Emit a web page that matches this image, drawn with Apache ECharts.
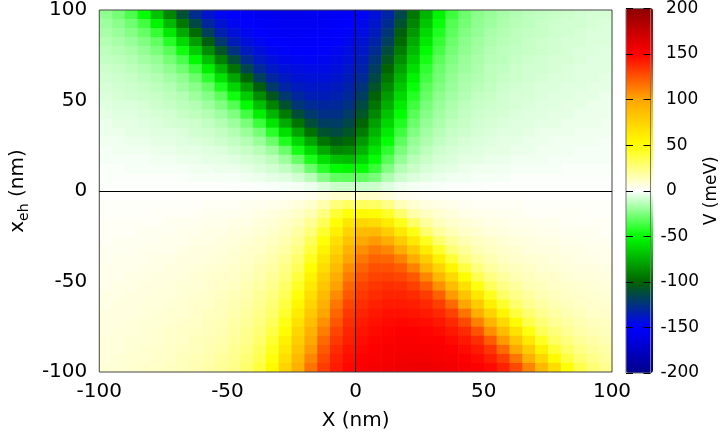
<!DOCTYPE html>
<html>
<head>
<meta charset="utf-8">
<title>V(X, x_eh)</title>
<script src="https://cdn.jsdelivr.net/npm/echarts@6/dist/echarts.min.js"></script>
<style>
  html, body { margin: 0; padding: 0; background: #fff; }
  #chart { width: 721px; height: 436px; }
</style>
</head>
<body>
<div id="chart"></div>
<script>
// cell centres in nm (5 nm cells)
const xCenters = [-97.5, -92.5, -87.5, -82.5, -77.5, -72.5, -67.5, -62.5, -57.5, -52.5,
  -47.5, -42.5, -37.5, -32.5, -27.5, -22.5, -17.5, -12.5, -7.5, -2.5,
  2.5, 7.5, 12.5, 17.5, 22.5, 27.5, 32.5, 37.5, 42.5, 47.5,
  52.5, 57.5, 62.5, 67.5, 72.5, 77.5, 82.5, 87.5, 92.5, 97.5];
const yCenters = [97.5, 92.5, 87.5, 82.5, 77.5, 72.5, 67.5, 62.5, 57.5, 52.5,
  47.5, 42.5, 37.5, 32.5, 27.5, 22.5, 17.5, 12.5, 7.5, 2.5,
  -2.5, -7.5, -12.5, -17.5, -22.5, -27.5, -32.5, -37.5, -42.5, -47.5,
  -52.5, -57.5, -62.5, -67.5, -72.5, -77.5, -82.5, -87.5, -92.5, -97.5];

// V (meV), one row per yCenter (top to bottom), left to right
const vRows = [
  [-22,-27,-35,-49,-69,-89,-110,-128,-140,-147,-151,-153,-155,-156,-157,-157,-156,-155,-154,-152,-148,-142,-132,-115,-94,-74,-53,-38,-29,-23,-20,-17,-15,-13,-12,-11,-10,-9,-8,-8],
  [-19,-23,-28,-37,-53,-73,-94,-114,-131,-141,-147,-151,-153,-154,-155,-155,-155,-154,-152,-150,-146,-140,-128,-109,-89,-68,-48,-34,-27,-22,-19,-16,-14,-13,-11,-10,-9,-9,-8,-7],
  [-17,-20,-24,-30,-40,-57,-78,-98,-118,-134,-142,-147,-150,-152,-153,-154,-153,-153,-151,-148,-144,-137,-123,-103,-83,-62,-44,-32,-25,-21,-17,-15,-13,-12,-11,-10,-9,-8,-7,-7],
  [-15,-17,-20,-25,-31,-43,-62,-82,-103,-122,-136,-143,-147,-150,-151,-152,-152,-151,-149,-146,-141,-133,-118,-98,-77,-57,-40,-29,-23,-19,-16,-14,-13,-11,-10,-9,-8,-8,-7,-7],
  [-13,-15,-17,-21,-26,-33,-47,-66,-87,-107,-125,-137,-143,-147,-149,-150,-150,-149,-147,-144,-139,-129,-112,-92,-72,-51,-36,-27,-22,-18,-15,-13,-12,-11,-10,-9,-8,-7,-7,-6],
  [-12,-13,-15,-18,-21,-27,-35,-51,-71,-91,-111,-128,-138,-143,-146,-147,-148,-147,-145,-142,-136,-124,-106,-86,-66,-46,-32,-25,-20,-17,-14,-13,-11,-10,-9,-8,-8,-7,-6,-6],
  [-10,-11,-13,-15,-18,-22,-28,-38,-55,-75,-95,-115,-130,-138,-142,-144,-145,-145,-143,-139,-133,-119,-100,-80,-60,-41,-29,-23,-19,-16,-13,-12,-10,-9,-9,-8,-7,-6,-6,-6],
  [-9,-10,-11,-13,-15,-18,-22,-29,-41,-59,-79,-99,-118,-131,-138,-141,-142,-142,-140,-136,-129,-114,-94,-74,-54,-37,-27,-21,-17,-15,-13,-11,-10,-9,-8,-7,-7,-6,-6,-5],
  [-8,-9,-10,-11,-13,-15,-19,-23,-30,-44,-63,-83,-103,-121,-132,-137,-139,-139,-137,-133,-124,-108,-88,-68,-48,-33,-25,-20,-16,-14,-12,-10,-9,-8,-7,-7,-6,-6,-5,-5],
  [-7,-8,-9,-10,-11,-13,-15,-19,-24,-32,-47,-67,-87,-106,-122,-131,-135,-136,-134,-130,-119,-101,-82,-62,-43,-30,-22,-18,-15,-12,-11,-9,-8,-8,-7,-6,-6,-5,-5,-4],
  [-6,-7,-7,-8,-10,-11,-13,-15,-19,-25,-34,-51,-71,-90,-109,-123,-129,-131,-130,-125,-113,-95,-76,-56,-38,-26,-20,-16,-13,-11,-10,-9,-8,-7,-6,-6,-5,-5,-4,-4],
  [-5,-6,-6,-7,-8,-9,-11,-13,-15,-19,-25,-37,-55,-74,-93,-111,-122,-126,-126,-120,-107,-88,-69,-50,-33,-24,-18,-15,-12,-10,-9,-8,-7,-6,-6,-5,-5,-4,-4,-4],
  [-4,-5,-5,-6,-7,-8,-9,-10,-12,-15,-19,-26,-39,-58,-77,-95,-111,-119,-120,-114,-100,-81,-63,-44,-29,-21,-16,-13,-11,-9,-8,-7,-6,-6,-5,-5,-4,-4,-4,-3],
  [-4,-4,-5,-5,-6,-6,-7,-9,-10,-12,-15,-20,-27,-42,-60,-79,-96,-109,-113,-107,-92,-74,-56,-38,-25,-18,-14,-11,-10,-8,-7,-6,-6,-5,-4,-4,-4,-3,-3,-3],
  [-3,-3,-4,-4,-5,-5,-6,-7,-8,-10,-12,-15,-20,-29,-44,-62,-79,-95,-103,-98,-83,-67,-49,-32,-21,-16,-12,-10,-8,-7,-6,-5,-5,-4,-4,-3,-3,-3,-3,-2],
  [-2,-3,-3,-3,-4,-4,-5,-5,-6,-7,-9,-11,-14,-19,-29,-46,-62,-78,-89,-87,-74,-58,-41,-26,-18,-13,-10,-8,-7,-6,-5,-5,-4,-4,-3,-3,-3,-2,-2,-2],
  [-2,-2,-2,-2,-3,-3,-4,-4,-5,-5,-6,-8,-10,-13,-19,-30,-45,-60,-70,-72,-63,-49,-33,-21,-14,-11,-8,-7,-5,-5,-4,-4,-3,-3,-3,-2,-2,-2,-2,-2],
  [-1,-1,-2,-2,-2,-2,-2,-3,-3,-4,-4,-5,-7,-9,-12,-17,-29,-42,-51,-53,-49,-39,-25,-15,-11,-8,-6,-5,-4,-3,-3,-3,-2,-2,-2,-2,-1,-1,-1,-1],
  [-1,-1,-1,-1,-1,-1,-1,-2,-2,-2,-2,-3,-4,-5,-6,-9,-14,-24,-31,-32,-31,-26,-16,-10,-7,-5,-4,-3,-3,-2,-2,-2,-1,-1,-1,-1,-1,-1,-1,-1],
  [-0.3,-0.3,-0.3,-0.3,-0.4,-0.4,-0.5,-0.5,-0.6,-0.6,-0.8,-0.9,-1.1,-1.4,-1.9,-2.6,-3.8,-7.1,-10.3,-10.5,-10.5,-9.8,-6.4,-3.5,-2.4,-1.8,-1.4,-1.1,-0.9,-0.8,-0.6,-0.6,-0.5,-0.5,-0.4,-0.4,-0.3,-0.3,-0.3,-0.3],
  [0.3,0.3,0.3,0.3,0.4,0.4,0.5,0.5,0.6,0.6,0.8,0.9,1.1,1.4,1.8,2.4,3.5,6.4,9.8,10.5,10.5,10.3,7.1,3.8,2.6,1.9,1.4,1.1,0.9,0.8,0.6,0.6,0.5,0.5,0.4,0.4,0.3,0.3,0.3,0.3],
  [1,1,1,1,1,1,1,1,2,2,2,3,3,4,5,7,10,16,26,31,32,31,24,14,9,6,5,4,3,2,2,2,2,1,1,1,1,1,1,1],
  [1,1,1,1,2,2,2,2,3,3,3,4,5,6,8,11,15,25,39,49,53,51,42,29,17,12,9,7,5,4,4,3,3,2,2,2,2,2,1,1],
  [2,2,2,2,2,3,3,3,4,4,5,5,7,8,11,14,21,33,49,63,72,70,60,45,30,19,13,10,8,6,5,5,4,4,3,3,2,2,2,2],
  [2,2,2,3,3,3,4,4,5,5,6,7,8,10,13,18,26,41,58,74,87,89,78,62,46,29,19,14,11,9,7,6,5,5,4,4,3,3,3,2],
  [2,3,3,3,3,4,4,5,5,6,7,8,10,12,16,21,32,49,67,83,98,103,95,79,62,44,29,20,15,12,10,8,7,6,5,5,4,4,3,3],
  [3,3,3,4,4,4,5,6,6,7,8,10,11,14,18,25,38,56,74,92,107,113,109,96,79,60,42,27,20,15,12,10,9,7,6,6,5,5,4,4],
  [3,4,4,4,5,5,6,6,7,8,9,11,13,16,21,29,44,63,81,100,114,120,119,111,95,77,58,39,26,19,15,12,10,9,8,7,6,5,5,4],
  [4,4,4,5,5,6,6,7,8,9,10,12,15,18,24,33,50,69,88,107,120,126,126,122,111,93,74,55,37,25,19,15,13,11,9,8,7,6,6,5],
  [4,4,5,5,6,6,7,8,9,10,11,13,16,20,26,38,56,76,95,113,125,130,131,129,123,109,90,71,51,34,25,19,15,13,11,10,8,7,7,6],
  [4,5,5,6,6,7,8,8,9,11,12,15,18,22,30,43,62,82,101,119,130,134,136,135,131,122,106,87,67,47,32,24,19,15,13,11,10,9,8,7],
  [5,5,6,6,7,7,8,9,10,12,14,16,20,25,33,48,68,88,108,124,133,137,139,139,137,132,121,103,83,63,44,30,23,19,15,13,11,10,9,8],
  [5,6,6,7,7,8,9,10,11,13,15,17,21,27,37,54,74,94,114,129,136,140,142,142,141,138,131,118,99,79,59,41,29,22,18,15,13,11,10,9],
  [6,6,6,7,8,9,9,10,12,13,16,19,23,29,41,60,80,100,119,133,139,143,145,145,144,142,138,130,115,95,75,55,38,28,22,18,15,13,11,10],
  [6,6,7,8,8,9,10,11,13,14,17,20,25,32,46,66,86,106,124,136,142,145,147,148,147,146,143,138,128,111,91,71,51,35,27,21,18,15,13,12],
  [6,7,7,8,9,10,11,12,13,15,18,22,27,36,51,72,92,112,129,139,144,147,149,150,150,149,147,143,137,125,107,87,66,47,33,26,21,17,15,13],
  [7,7,8,8,9,10,11,13,14,16,19,23,29,40,57,77,98,118,133,141,146,149,151,152,152,151,150,147,143,136,122,103,82,62,43,31,25,20,17,15],
  [7,7,8,9,10,11,12,13,15,17,21,25,32,44,62,83,103,123,137,144,148,151,153,153,154,153,152,150,147,142,134,118,98,78,57,40,30,24,20,17],
  [7,8,9,9,10,11,13,14,16,19,22,27,34,48,68,89,109,128,140,146,150,152,154,155,155,155,154,153,151,147,141,131,114,94,73,53,37,28,23,19],
  [8,8,9,10,11,12,13,15,17,20,23,29,38,53,74,94,115,132,142,148,152,154,155,156,157,157,156,155,153,151,147,140,128,110,89,69,49,35,27,22]
];

const axisTicks = [-100, -50, 0, 50, 100];
const cbTicks = [-200, -150, -100, -50, 0, 50, 100, 150, 200];
const palette = ['#00008b', '#0000ff', '#006400', '#00ff00', '#ffffff', '#ffff00', '#ffa500', '#ff0000', '#8b0000'];

const FONT = 'DejaVu Sans';
const cellW = xCenters[1] - xCenters[0];
const cellH = yCenters[0] - yCenters[1];

const cells = [];
yCenters.forEach(function (y, i) {
  xCenters.forEach(function (x, j) {
    cells.push([x, y, vRows[i][j]]);
  });
});

const chart = echarts.init(document.getElementById('chart'), null, { renderer: 'canvas' });

const option = {
  animation: false,
  backgroundColor: '#fff',
  textStyle: { fontFamily: FONT, color: '#000' },
  grid: [
    { left: 81, top: 8, width: 531, height: 365, show: true, z: 5,
      borderColor: '#444', borderWidth: 1, backgroundColor: 'transparent' },
    { left: 626, top: 8, width: 27, height: 365, show: true, z: 5,
      borderColor: '#777', borderWidth: 1, backgroundColor: 'transparent' }
  ],
  xAxis: [
    {
      gridIndex: 0, type: 'value',
      min: axisTicks[0], max: axisTicks[axisTicks.length - 1], interval: axisTicks[1] - axisTicks[0],
      name: 'X (nm)', nameLocation: 'middle', nameGap: 39,
      nameTextStyle: { fontSize: 20, color: '#000', fontFamily: FONT },
      axisLine: { show: false, onZero: false },
      axisTick: { show: false },
      splitLine: { show: false },
      axisLabel: { fontSize: 20, color: '#000', margin: 10, fontFamily: FONT }
    },
    { gridIndex: 1, type: 'value', min: 0, max: 1, show: false }
  ],
  yAxis: [
    {
      gridIndex: 0, type: 'value',
      min: axisTicks[0], max: axisTicks[axisTicks.length - 1], interval: axisTicks[1] - axisTicks[0],
      name: '{a|x}{b|eh}{a| (nm)}', nameLocation: 'middle', nameGap: 50,
      nameTextStyle: {
        color: '#000', fontFamily: FONT,
        rich: {
          a: { fontSize: 20, fontFamily: FONT, color: '#000' },
          b: { fontSize: 14, fontFamily: FONT, color: '#000', padding: [12, 0, 0, 0] }
        }
      },
      axisLine: { show: false, onZero: false },
      axisTick: { show: false },
      splitLine: { show: false },
      axisLabel: { fontSize: 20, color: '#000', margin: 12, fontFamily: FONT }
    },
    {
      gridIndex: 1, type: 'value', position: 'right', z: 6,
      min: cbTicks[0], max: cbTicks[cbTicks.length - 1], interval: cbTicks[1] - cbTicks[0],
      name: 'V (meV)', nameLocation: 'middle', nameGap: 50,
      nameTextStyle: { fontSize: 17, color: '#000', fontFamily: FONT },
      axisLine: { show: false, onZero: false },
      axisTick: { show: true, inside: true, length: 7, lineStyle: { color: '#000', width: 1 } },
      splitLine: { show: false },
      axisLabel: {
        fontSize: 17, color: '#000', margin: 10, fontFamily: FONT,
        formatter: function (v) { return (v >= 0 ? ' ' : '') + v; }
      }
    },
    {
      gridIndex: 1, type: 'value', position: 'left', z: 6,
      min: cbTicks[0], max: cbTicks[cbTicks.length - 1], interval: cbTicks[1] - cbTicks[0],
      axisLine: { show: false, onZero: false },
      axisTick: { show: true, inside: true, length: 7, lineStyle: { color: '#000', width: 1 } },
      splitLine: { show: false },
      axisLabel: { show: false }
    }
  ],
  visualMap: {
    type: 'continuous',
    seriesIndex: 0,
    dimension: 2,
    min: cbTicks[0],
    max: cbTicks[cbTicks.length - 1],
    calculable: false,
    hoverLink: false,
    left: 626,
    top: 8,
    padding: 0,
    itemWidth: 27,
    itemHeight: 365,
    inRange: { color: palette }
  },
  series: [
    {
      type: 'custom',
      xAxisIndex: 0,
      yAxisIndex: 0,
      silent: true,
      clip: true,
      dimensions: ['X', 'xeh', 'V'],
      encode: { x: 0, y: 1 },
      data: cells,
      renderItem: function (params, api) {
        const x = api.value(0);
        const y = api.value(1);
        const p0 = api.coord([x - cellW / 2, y + cellH / 2]);
        const p1 = api.coord([x + cellW / 2, y - cellH / 2]);
        return {
          type: 'rect',
          shape: { x: p0[0], y: p0[1], width: p1[0] - p0[0] + 0.6, height: p1[1] - p0[1] + 0.6 },
          style: { fill: api.visual('color') }
        };
      },
      markLine: {
        silent: true,
        symbol: ['none', 'none'],
        label: { show: false },
        lineStyle: { color: '#000', width: 1, type: 'solid' },
        data: [{ xAxis: 0 }, { yAxis: 0 }]
      }
    }
  ]
};

chart.setOption(option);
</script>
</body>
</html>
